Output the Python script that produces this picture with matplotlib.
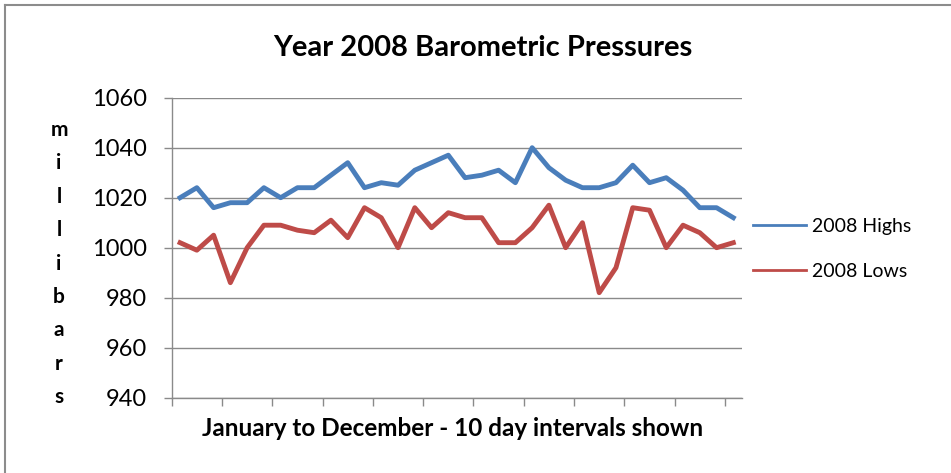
import numpy as np
import matplotlib
matplotlib.use("Agg")
import matplotlib.pyplot as plt
from matplotlib.lines import Line2D

# 10-day interval readings, January to December
highs = [1020, 1024, 1016, 1018, 1018, 1024, 1020, 1024, 1024, 1029,
         1034, 1024, 1026, 1025, 1031, 1034, 1037, 1028, 1029, 1031,
         1026, 1040, 1032, 1027, 1024, 1024, 1026, 1033, 1026, 1028,
         1023, 1016, 1016, 1012]
lows = [1002, 999, 1005, 986, 1000, 1009, 1009, 1007, 1006, 1011,
        1004, 1016, 1012, 1000, 1016, 1008, 1014, 1012, 1012, 1002,
        1002, 1008, 1017, 1000, 1010, 982, 992, 1016, 1015, 1000,
        1009, 1006, 1000, 1002]
series_names = ["2008 Highs", "2008 Lows"]
y_ticks = [940, 960, 980, 1000, 1020, 1040, 1060]

plt.rcParams["font.family"] = ["Lato", "DejaVu Sans"]

W, H = 951, 473
fig = plt.figure(figsize=(W / 100, H / 100), dpi=100)
ax = fig.add_axes([171.7 / W, (H - 397.7) / H, 570 / W, 300 / H])

x = np.arange(len(highs))
blue, red = "#4A7EBB", "#BE4B48"
ax.plot(x, highs, color=blue, lw=3.5, label=series_names[0])
ax.plot(x, lows, color=red, lw=3.5, label=series_names[1])

ax.set_xlim(-0.5, len(highs) - 0.5)
ax.set_ylim(940, 1060)
ax.set_yticks(y_ticks)
ax.set_xticks(np.arange(-0.5, len(highs), 3))
ax.set_xticklabels([])
ax.grid(axis="y", color="#8a8a8a", lw=1)
ax.set_axisbelow(True)
for s in ["top", "right"]:
    ax.spines[s].set_visible(False)
for s in ["left", "bottom"]:
    ax.spines[s].set_color("#8a8a8a")
    ax.spines[s].set_linewidth(1)
ax.tick_params(axis="both", direction="out", length=6, color="#8a8a8a", width=1)
ax.tick_params(axis="y", labelsize=17, pad=12, colors="#8a8a8a", labelcolor="black")

fig.text(483 / W, 1 - 47.5 / H, "Year 2008 Barometric Pressures",
         ha="center", va="center", fontsize=21, fontweight="bold")
fig.text(453 / W, 1 - 428 / H, "January to December - 10 day intervals shown",
         ha="center", va="center", fontsize=17.5, fontweight="bold")
fig.text(59 / W, 1 - 263.5 / H, "\n".join("millibars"),
         ha="center", va="center", fontsize=15, fontweight="bold", linespacing=1.84)

leg = ax.legend(loc="center left", bbox_to_anchor=(0.989, 0.497), frameon=False,
                fontsize=14, handlelength=2.73, labelspacing=1.44, handletextpad=0.3)
for line in leg.get_lines():
    line.set_linewidth(2)

# chart frame (left and top edges visible in the crop)
fig.add_artist(Line2D([5 / W, 5 / W], [0, 1 - 5 / H], color="#8c8c8c", lw=1.5))
fig.add_artist(Line2D([5 / W, 1], [1 - 5 / H, 1 - 5 / H], color="#8c8c8c", lw=1.5))

fig.savefig("out.png", dpi=100)
